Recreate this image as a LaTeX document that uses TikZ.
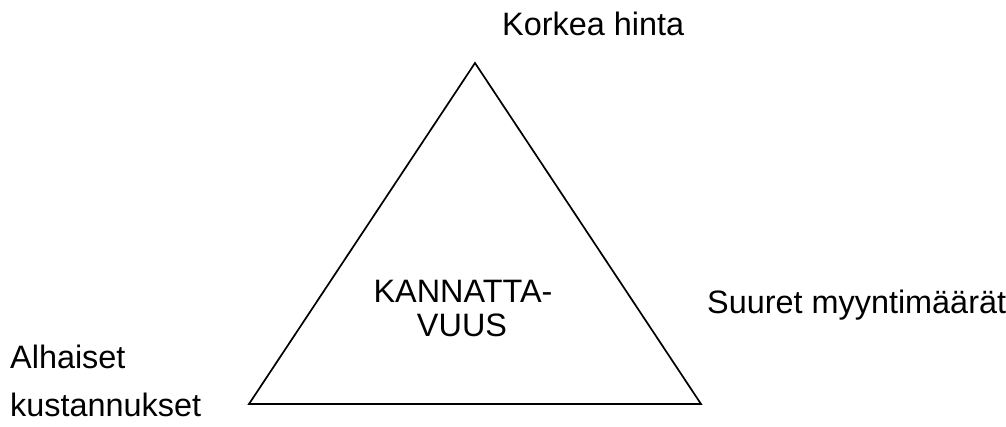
\documentclass[tikz,border=0pt]{standalone}
\usepackage{fontspec}
\setmainfont{Liberation Sans}
\begin{document}
\begin{tikzpicture}[x=1pt,y=1pt,
  lbl/.style={inner sep=0pt, font=\fontsize{32.4}{38}\selectfont},
  edge/.style={line width=1.7pt, line join=miter}]
\useasboundingbox (0,0) rectangle (1006,426);
\coordinate (top) at (475,363);
\coordinate (bl) at (249,22);
\coordinate (br) at (701,22);
\draw[edge] (top) -- (bl) -- (br) -- cycle;
\node[lbl, anchor=base west] (korkea) at (502,390) {Korkea hinta};
\node[lbl, anchor=base] (kann) at (463,124) {KANNATTA-};
\node[lbl, anchor=base] (vuus) at (462,90) {VUUS};
\node[lbl, anchor=base west] (suuret) at (707,113) {Suuret myyntimäärät};
\node[lbl, anchor=base west] (alh) at (10,58) {Alhaiset};
\node[lbl, anchor=base west] (kust) at (10,10) {kustannukset};
\end{tikzpicture}
\end{document}
